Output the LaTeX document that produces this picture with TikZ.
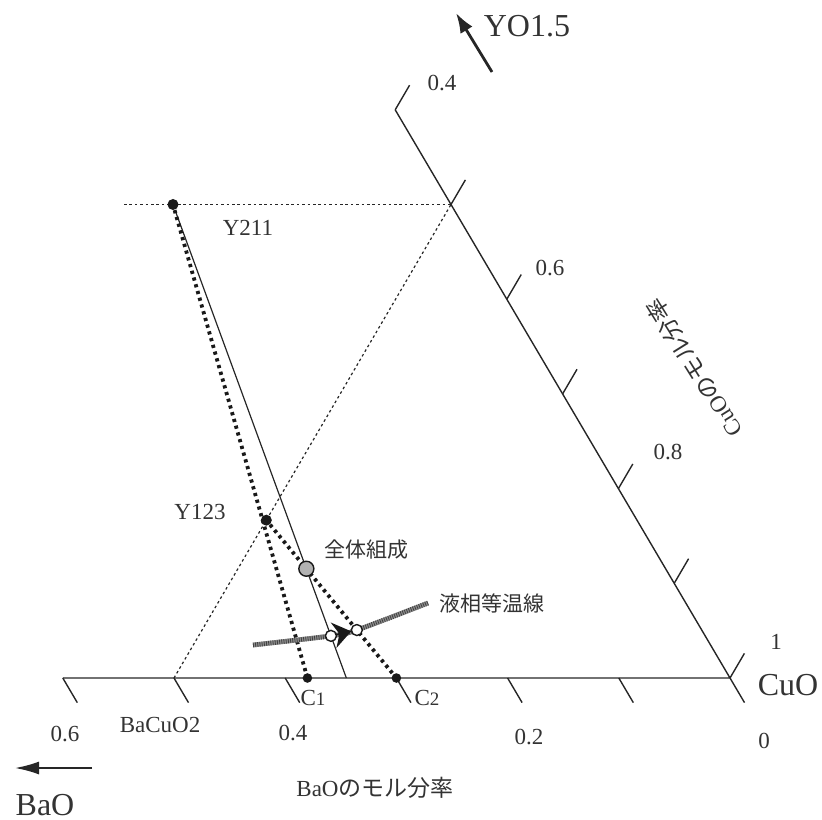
\documentclass[tikz,border=0pt]{standalone}
\usepackage{fontspec}
\setmainfont{Liberation Serif}
\newfontfamily\jp{Noto Sans CJK JP}
\usetikzlibrary{arrows.meta,calc}

\begin{document}
\begin{tikzpicture}[x=0.5bp, y=-0.5bp,
  axis/.style={line width=0.7bp, black!85},
  guide/.style={line width=0.6bp, black!85, dash pattern=on 1.3bp off 1.4bp},
  tieline/.style={line width=1.9bp, black!90, dash pattern=on 1.6bp off 1.9bp},
  isotherm/.style={line width=2.4bp, black!45},
  isohatch/.style={line width=2.4bp, black!75, dash pattern=on 0.4bp off 0.7bp},
  pdot/.style={circle, fill=black!90, inner sep=0pt, minimum size=5.5bp},
  cdot/.style={circle, fill=black!90, inner sep=0pt, minimum size=4.8bp},
  whole/.style={circle, draw=black!90, fill=black!30, line width=0.7bp, inner sep=0pt, minimum size=7.5bp},
  liq/.style={circle, draw=black!90, fill=white, line width=0.7bp, inner sep=0pt, minimum size=5.5bp},
  num/.style={text=black!80, font=\fontsize{11.5bp}{13bp}\selectfont},
  big/.style={text=black!80, font=\fontsize{16bp}{18bp}\selectfont},
  jplab/.style={text=black!80, font=\jp\fontsize{10.5bp}{12bp}\selectfont},
  jptitle/.style={text=black!80, font=\fontsize{11.5bp}{13bp}\selectfont}]
  \useasboundingbox (0,0) rectangle (822,820);

  % ternary frame: origin at CuO, x = BaO fraction, y = YO1.5 fraction
  \begin{scope}[shift={(730,678)}, x={(-556bp,0bp)}, y={(-279bp,473.5bp)}]
    \coordinate (CuO) at (0,0);
    \coordinate (B6) at (0.6,0);
    \coordinate (Y6) at (0,0.6);
    \coordinate (BaCuO2) at (0.5,0);
    \coordinate (S) at (0.345,0);
    \coordinate (H1) at (0.294,0.5);
    \coordinate (H2) at (0,0.5);
    \draw[axis] (B6) -- (CuO) -- (Y6);
    \foreach \k in {0,1,...,6} {
      \draw[axis] (\k/10,0) -- ++(0,-0.026);
      \draw[axis] (0,\k/10) -- ++(-0.026,0.026);
    }
    \draw[guide] (H1) -- (H2);
    \draw[guide] (BaCuO2) -- (H2);
    \node[pdot] (y211) at (0.25,0.5) {};
    \node[pdot] (y123) at (1/3,1/6) {};
    \node[cdot] (c1) at (0.38,0) {};
    \node[cdot] (c2) at (0.3,0) {};
  \end{scope}

  % tie lines
  \draw[axis, line width=0.6bp] (y211) -- (S);
  \draw[tieline] (y211) -- (c1);
  \draw[tieline] (y123) -- (c2);

  % liquidus isotherm
  \coordinate (lp) at ($(y211.center)!0.911!(S)$);
  \coordinate (rp) at ($(y123.center)!0.696!(c2.center)$);
  \coordinate (iso1) at (253,645);
  \coordinate (iso2) at (428,603);
  \draw[isotherm] plot[smooth] coordinates {(iso1) (lp) (rp) (iso2)};
  \draw[isohatch] plot[smooth] coordinates {(iso1) (lp) (rp) (iso2)};
  \draw[-{Stealth[length=9bp,width=13bp,inset=3bp]}, line width=0.8bp, black!90,
        shorten >=2.9bp] (lp) -- (rp);
  \node[whole] (zen) at (intersection of y211.center--S and y123.center--c2.center) {};
  \node[liq] (l1) at (lp) {};
  \node[liq] (l2) at (rp) {};

  % axis arrows
  \coordinate (ya) at (492,72);
  \coordinate (yb) at (456,13);
  \draw[-{Latex[length=10bp,width=7bp]}, line width=1.4bp, black!85] (ya) -- (yb);
  \coordinate (ba) at (92,768);
  \coordinate (bb) at (15,768);
  \draw[-{Latex[length=12bp,width=6.5bp]}, line width=0.9bp, black!85] (ba) -- (bb);

  % labels
  \node[big] (yo) at (527,26) {YO1.5};
  \node[big] (bao) at (45,805) {BaO};
  \node[big] (cuo) at (788,685) {CuO};
  \node[num] (b60) at (65,734) {0.6};
  \node[num] (b50) at (160,725) {BaCuO2};
  \node[num] (b40) at (293,733) {0.4};
  \node[num] (b20) at (529,737) {0.2};
  \node[num] (b00) at (764,741) {0};
  \node[num] (c10) at (776,642) {1};
  \node[num] (c08) at (668,452) {0.8};
  \node[num] (c06) at (550,268) {0.6};
  \node[num] (c04) at (442,83) {0.4};
  \node[num] (lc1) at (313,698) {C{\fontsize{9.5bp}{11bp}\selectfont 1}};
  \node[num] (lc2) at (427,698) {C{\fontsize{9.5bp}{11bp}\selectfont 2}};
  \node[num] (l211) at (248,228) {Y211};
  \node[num] (l123) at (200,512) {Y123};
  \node[jplab] (lzen) at (366,550) {全体組成};
  \node[jplab] (liso) at (492,603) {液相等温線};
  \node[jptitle] (tb) at (375,788) {BaO{\jp のモル分率}};
  \node[jptitle, rotate=122] (tc) at (694,368) {CuO{\jp のモル分率}};
\end{tikzpicture}
\end{document}
